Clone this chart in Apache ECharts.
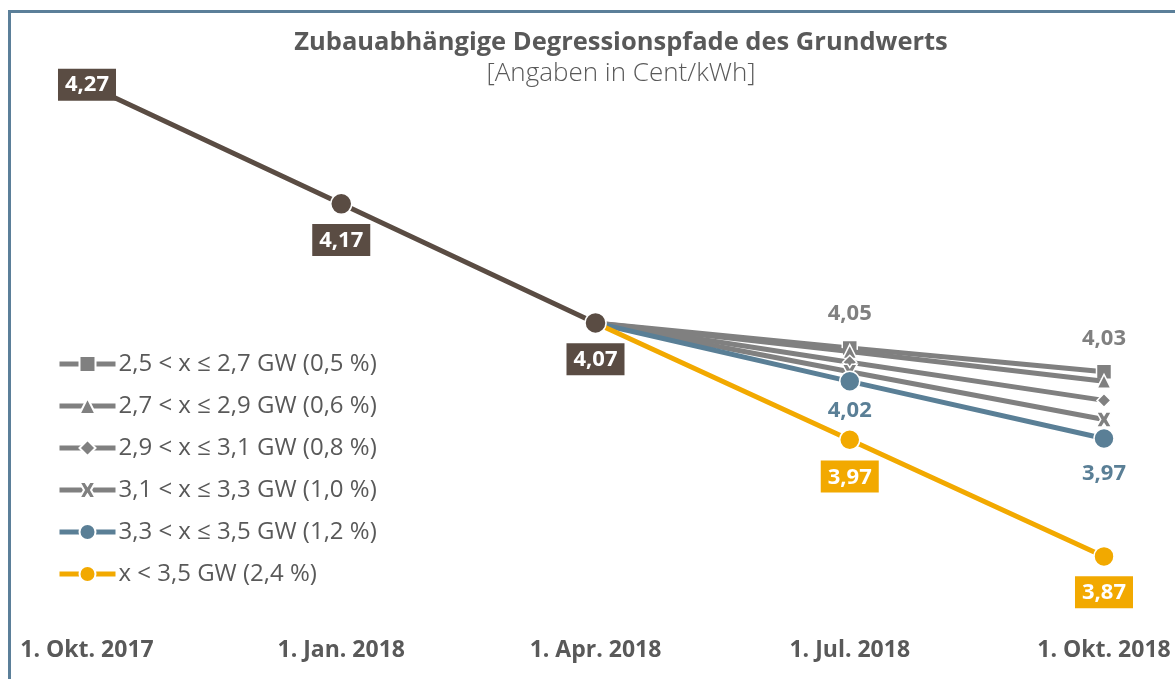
<!DOCTYPE html>
<html>
<head>
<meta charset="utf-8">
<script src="https://cdn.jsdelivr.net/npm/echarts@6/dist/echarts.min.js"></script>
<style>
  html, body { margin: 0; padding: 0; background: #fff; }
  #chart { width: 1175px; height: 679px; }
</style>
</head>
<body>
<div id="chart"></div>
<script>
// Stichtage (x-Achse)
const dates = ['1. Okt. 2017', '1. Jan. 2018', '1. Apr. 2018', '1. Jul. 2018', '1. Okt. 2018'];

// Grundwert bis zum Verzweigungspunkt
const basePath = [4.27, 4.17, 4.07, '-', '-'];

// Degressionspfade ab 1. Apr. 2018
const path05 = ['-', '-', 4.07, 4.049, 4.029];
const path06 = ['-', '-', 4.07, 4.046, 4.021];
const path08 = ['-', '-', 4.07, 4.037, 4.005];
const path10 = ['-', '-', 4.07, 4.029, 3.989];
const path12 = ['-', '-', 4.07, 4.021, 3.973];
const path24 = ['-', '-', 4.07, 3.972, 3.874];

const seriesNames = [
  '2,5 < x ≤ 2,7 GW (0,5 %)',
  '2,7 < x ≤ 2,9 GW (0,6 %)',
  '2,9 < x ≤ 3,1 GW (0,8 %)',
  '3,1 < x ≤ 3,3 GW (1,0 %)',
  '3,3 < x ≤ 3,5 GW (1,2 %)',
  'x < 3,5 GW (2,4 %)'
];

const BROWN = '#5a4c43';
const GREY = '#808080';
const BLUE = '#5a7f96';
const ORANGE = '#f2a900';
const TEXT = '#595959';
const FONT = '"Open Sans", "Noto Sans", sans-serif';

// fettes Kreuz als Marker
const crossPath = 'path://M0,0 L3.6,0 L5,2.2 L6.4,0 L10,0 L7.2,5 L10,10 L6.4,10 L5,7.8 L3.6,10 L0,10 L2.8,5 Z';

const fmt = (p) => p.value.toFixed(2).replace('.', ',');

const boxLabel = (color, position, distance) => ({
  show: true,
  position: position,
  distance: distance,
  formatter: fmt,
  color: '#fff',
  fontFamily: FONT,
  fontSize: 22,
  fontWeight: 'bold',
  backgroundColor: color,
  padding: [6, 7, 4, 7]
});

const plainLabel = (color, position, distance) => ({
  show: true,
  position: position,
  distance: distance,
  formatter: fmt,
  color: color,
  fontFamily: FONT,
  fontSize: 22,
  fontWeight: 'bold'
});

// helper: attach a label to single points only
const withLabels = (arr, labels) => arr.map((v, i) =>
  labels[i] ? { value: v, label: labels[i] } : v);

const branch = (name, data, color, symbol, size, labels, z) => ({
  name: name,
  type: 'line',
  data: withLabels(data, labels || {}),
  symbol: symbol,
  symbolSize: size,
  showAllSymbol: true,
  z: z,
  lineStyle: { width: 5, color: color },
  itemStyle: { color: color, borderColor: '#fff', borderWidth: 1.5 },
  emphasis: { disabled: true },
  animation: false
});

const chart = echarts.init(document.getElementById('chart'));

const option = {
  backgroundColor: '#fff',
  animation: false,
  title: {
    text: 'Zubauabhängige Degressionspfade des Grundwerts',
    subtext: '[Angaben in Cent/kWh]',
    left: 616,
    textAlign: 'center',
    top: 25,
    itemGap: 5,
    textStyle: { fontFamily: FONT, fontSize: 25.5, fontWeight: 'bold', color: TEXT },
    subtextStyle: { fontFamily: FONT, fontSize: 26, fontWeight: 300, color: TEXT }
  },
  legend: {
    orient: 'vertical',
    left: 57,
    top: 352,
    padding: 0,
    itemWidth: 56,
    itemHeight: 20,
    itemGap: 18,
    data: seriesNames,
    lineStyle: { width: 5 },
    textStyle: { fontFamily: FONT, fontSize: 24, color: TEXT, lineHeight: 24, padding: [0, 0, 0, -2] }
  },
  grid: { left: 87, right: 71, top: 49, bottom: 94 },
  xAxis: {
    type: 'category',
    data: dates,
    boundaryGap: false,
    axisLine: { show: false },
    axisTick: { show: false },
    splitLine: { show: false },
    axisLabel: {
      margin: 54,
      fontFamily: FONT,
      fontSize: 23,
      fontWeight: 'bold',
      color: TEXT
    }
  },
  yAxis: {
    type: 'value',
    min: 3.85,
    max: 4.3,
    show: false
  },
  graphic: [{
    type: 'polyline',
    shape: { points: [[9.5, 679], [9.5, 11.5], [1175, 11.5]] },
    style: { stroke: '#5b7f99', lineWidth: 3, fill: null },
    silent: true
  }],
  series: [
    branch(seriesNames[0], path05, GREY, 'rect', 15, {
      3: plainLabel(GREY, 'top', 15),
      4: plainLabel(GREY, 'top', 14)
    }, 2),
    branch(seriesNames[1], path06, GREY, 'triangle', 14, null, 3),
    branch(seriesNames[2], path08, GREY, 'diamond', 14, null, 4),
    branch(seriesNames[3], path10, GREY, crossPath, 15, null, 5),
    branch(seriesNames[4], path12, BLUE, 'circle', 20, {
      3: plainLabel(BLUE, 'bottom', 8),
      4: plainLabel(BLUE, 'bottom', 13)
    }, 6),
    branch(seriesNames[5], path24, ORANGE, 'circle', 20, {
      3: boxLabel(ORANGE, 'bottom', 10),
      4: boxLabel(ORANGE, 'bottom', 9)
    }, 7),
    {
      name: 'Grundwert',
      type: 'line',
      data: withLabels(basePath, {
        0: boxLabel(BROWN, 'inside', 0),
        1: boxLabel(BROWN, 'bottom', 9),
        2: boxLabel(BROWN, 'bottom', 9)
      }),
      symbol: 'circle',
      symbolSize: 21,
      z: 10,
      lineStyle: { width: 5, color: BROWN },
      itemStyle: { color: BROWN, borderColor: '#fff', borderWidth: 1.5 },
      emphasis: { disabled: true },
      animation: false
    }
  ]
};

chart.setOption(option);
window.addEventListener('resize', () => chart.resize());
</script>
</body>
</html>
